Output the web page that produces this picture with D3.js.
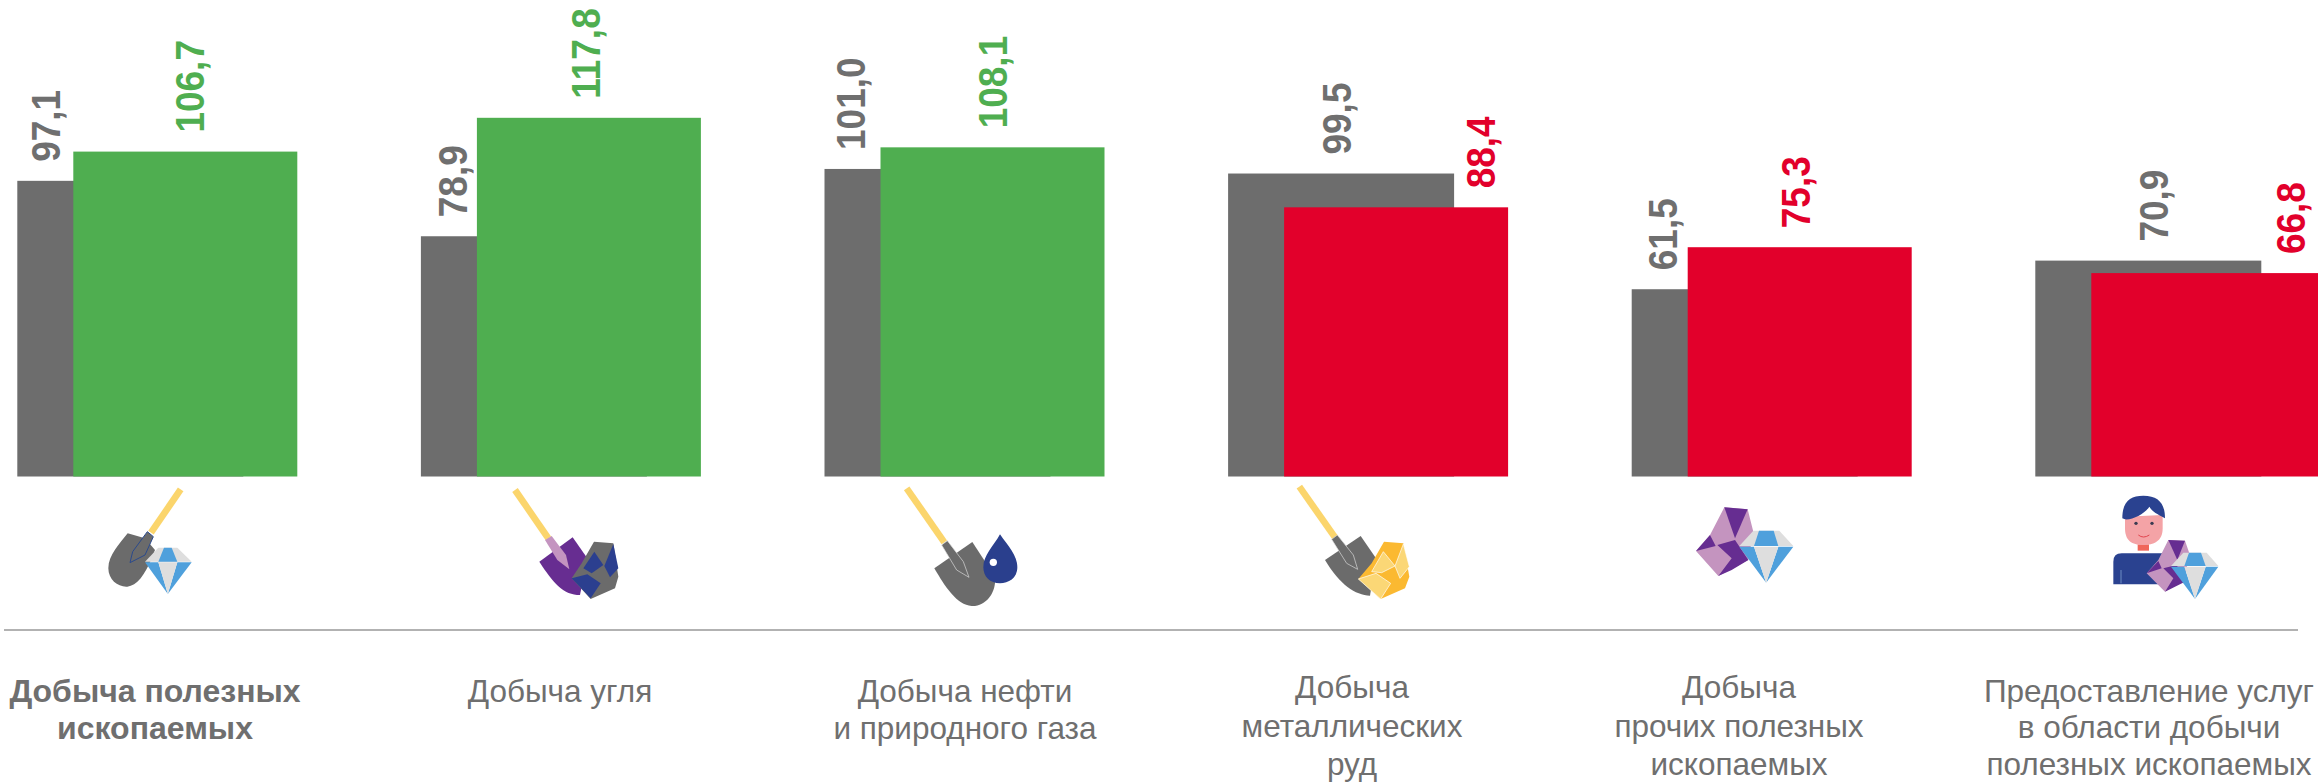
<!DOCTYPE html>
<html>
<head>
<meta charset="utf-8">
<script src="https://cdn.jsdelivr.net/npm/d3@7"></script>
<style>
  html, body { margin: 0; padding: 0; background: #fff; overflow: hidden; }
  text { font-family: "Liberation Sans", Arial, sans-serif; }
</style>
</head>
<body>
<div id="chart"></div>
<script>
// data
var categories = ["coal_all", "coal", "oil", "metal", "other", "services"];
var prevValues = [97.1, 78.9, 101.0, 99.5, 61.5, 70.9];
var currValues = [106.7, 117.8, 108.1, 88.4, 75.3, 66.8];
var currGroup = ["up", "up", "up", "down", "down", "down"];
var categoryLines = [
    ["Добыча полезных", "ископаемых"],
    ["Добыча угля"],
    ["Добыча нефти", "и природного газа"],
    ["Добыча", "металлических", "руд"],
    ["Добыча", "прочих полезных", "ископаемых"],
    ["Предоставление услуг", "в области добычи", "полезных ископаемых"]
];

// layout
var width = 2318, height = 782;
var baseY = 476.5;
var prevBarW = 226, currBarW = 224, currShift = 56;
var GRAY = "#6d6d6d";
var groupColor = d3.scaleOrdinal().domain(["up", "down"]).range(["#4fae50", "#e2002b"]);
// where the rotated value labels sit, measured from the left edge of their bar
var prevLabelDx = [43, 46, 40, 123, 45, 133];
var currLabelDx = [131, 123, 126, 211, 122, 214];
var textCenter = [155, 560, 965, 1352, 1739, 2149];
var textBase = [[702, 739], [702], [702, 739], [698, 737, 775], [698, 737, 775], [702, 738, 775]];

var xScale = d3.scaleBand()
    .domain(categories)
    .range([17.3, 17.3 + 403.6 * 6]);

var yScale = d3.scaleLinear()
    .domain([0, 120])
    .range([baseY, baseY - 3.045 * 120]);

var svg = d3.select("#chart")
    .append("svg")
    .attr("width", width)
    .attr("height", height);

function currColor(i) {
    return groupColor(currGroup[i]);
}

// previous year bars
svg.append("g").selectAll("rect")
    .data(prevValues)
    .join("rect")
    .attr("x", function(d, i) { return xScale(categories[i]); })
    .attr("y", function(d) { return yScale(d); })
    .attr("width", prevBarW)
    .attr("height", function(d) { return baseY - yScale(d); })
    .attr("fill", GRAY);

// current year bars, the last one runs off the page
svg.append("g").selectAll("rect")
    .data(currValues)
    .join("rect")
    .attr("x", function(d, i) { return xScale(categories[i]) + currShift; })
    .attr("y", function(d) { return yScale(d); })
    .attr("width", function(d, i) { return i == 5 ? currBarW + 4 : currBarW; })
    .attr("height", function(d) { return baseY - yScale(d); })
    .attr("fill", function(d, i) { return currColor(i); });

function fmt(v) {
    return v.toFixed(1).replace(".", ",");
}

function valueLabels(values, shift, dx, color) {
    svg.append("g").selectAll("text")
        .data(values)
        .join("text")
        .attr("transform", function(d, i) {
            var x = xScale(categories[i]) + shift + dx[i];
            return "translate(" + x + "," + (yScale(d) - 19) + ") rotate(-90) scale(1,1.1)";
        })
        .attr("font-size", 37)
        .attr("font-weight", "bold")
        .attr("fill", color)
        .text(fmt);
}
valueLabels(prevValues, 0, prevLabelDx, function() { return "#6f6f6f"; });
valueLabels(currValues, currShift, currLabelDx, function(d, i) { return currColor(i); });

// divider
svg.append("line")
    .attr("x1", 4).attr("x2", 2298)
    .attr("y1", 630).attr("y2", 630)
    .attr("stroke", "#999")
    .attr("stroke-width", 1.5);

// category captions
categoryLines.forEach(function(lines, i) {
    svg.append("text")
        .attr("text-anchor", "middle")
        .attr("font-size", i == 0 ? 32 : 31.5)
        .attr("font-weight", i == 0 ? "bold" : "normal")
        .attr("fill", "#6f6f6f")
        .selectAll("tspan")
        .data(lines)
        .join("tspan")
        .attr("x", textCenter[i])
        .attr("y", function(d, j) { return textBase[i][j]; })
        .text(function(d) { return d; });
});

// icons, coordinates are pixels of a 3x crop starting at the given origin
function icon(ox, oy) {
    return svg.append("g").attr("transform", "translate(" + ox + "," + oy + ") scale(" + (1 / 3) + ")");
}
function poly(g, pts, fill, stroke, sw) {
    return g.append("path")
        .attr("d", "M" + pts + "Z")
        .attr("fill", fill)
        .attr("stroke", stroke || "none")
        .attr("stroke-width", sw || 0);
}
function handle(g, p) {
    g.append("line")
        .attr("x1", p[0]).attr("y1", p[1]).attr("x2", p[2]).attr("y2", p[3])
        .attr("stroke", "#fbd56c")
        .attr("stroke-width", 20);
}
function diamond(g, l, r, t, b, tl, tr, ml, mr, y) {
    poly(g, [l, y, tl, t, tr, t, r, y].join(" "), "#dedede");
    poly(g, [ml, y, tl + 17, t, tr - 17, t, mr, y].join(" "), "#4fa0dc");
    var c = (ml + mr) / 2;
    poly(g, [l, y + 2, ml, y + 2, c, b].join(" "), "#4fa0dc");
    poly(g, [mr, y + 2, r, y + 2, c, b].join(" "), "#4fa0dc");
    poly(g, [ml, y + 2, mr, y + 2, c, b].join(" "), "#dedede");
}

var a = icon(90, 480);
handle(a, [272, 28, 183, 158]);
a.append("path")
    .attr("d", "M113,160 C90,190 55,225 55,265 C55,300 85,322 112,320 C140,318 165,285 185,235 L195,210 L165,175Z")
    .attr("fill", "#6b6b6b");
poly(a, "172,155 190,170 165,225 120,248 128,215", "#6b6b6b", "#2b4a8c", 3);
diamond(a, 165, 305, 203, 342, 205, 262, 205, 262, 245);

var b = icon(500, 480);
handle(b, [45, 30, 145, 175]);
b.append("path")
    .attr("d", "M118,245 L218,172 L262,235 L240,345 C190,345 160,310 118,245Z")
    .attr("fill", "#672d91");
poly(b, "135,180 155,168 198,225 208,268 172,240", "#c494c0");
poly(b, "282,185 340,190 355,290 345,325 272,357 215,295 245,250", "#6b6b6b");
poly(b, "250,265 283,215 310,255 275,280", "#2b3f8f");
poly(b, "340,192 355,265 330,292 313,258", "#2b3f8f");
poly(b, "215,295 262,283 302,310 272,355", "#2b3f8f");

var c = icon(895, 480);
handle(c, [35, 25, 148, 187]);
c.append("path")
    .attr("d", "M118,265 L232,186 L300,290 C305,340 270,380 230,378 C185,375 150,320 118,265Z")
    .attr("fill", "#6b6b6b");
poly(c, "140,195 157,182 205,245 222,292 185,270", "#6b6b6b", "#ddd", 2);
c.append("path")
    .attr("d", "M315,163 C340,200 367,225 367,262 C367,295 340,310 315,310 C285,310 265,290 265,262 C265,225 295,200 315,163Z")
    .attr("fill", "#2a3f8d");
c.append("circle").attr("cx", 295).attr("cy", 247).attr("r", 11).attr("fill", "#fff");

var e = icon(1290, 480);
handle(e, [28, 20, 135, 172]);
e.append("path")
    .attr("d", "M105,240 L212,168 L258,235 L240,347 C195,345 150,315 105,240Z")
    .attr("fill", "#6b6b6b");
poly(e, "125,178 142,165 190,225 203,268 170,250", "#6b6b6b", "#ddd", 2);
poly(e, "282,185 340,190 358,290 345,325 272,357 205,297 245,250", "#fbb931");
poly(e, "245,275 280,215 315,258 275,278", "#fbd776", "#fff", 2);
poly(e, "340,192 358,260 330,295 315,258", "#fbd776", "#fff", 2);
poly(e, "205,297 258,280 302,310 272,357", "#fbd776", "#fff", 2);

var f = icon(1685, 490);
poly(f, "118,52 188,58 205,125 190,210 100,258 33,183 75,135", "#c494bf");
poly(f, "118,52 188,58 150,145", "#662d91");
poly(f, "75,135 92,168 33,183", "#662d91");
poly(f, "97,165 150,150 190,210 140,240 100,258 140,205", "#662d91");
diamond(f, 163, 325, 122, 278, 205, 283, 207, 280, 168);

var h = icon(2090, 485);
poly(h, "143,178 177,178 177,197 143,197", "#f0665a");
h.append("path")
    .attr("d", "M105,95 L105,130 C105,175 135,180 160,180 C190,180 218,170 218,130 L218,90Z")
    .attr("fill", "#f4a3a6");
h.append("path")
    .attr("d", "M97,100 C97,50 120,32 160,32 C205,32 225,55 225,100 C210,90 190,85 178,65 C165,85 130,105 105,103Z")
    .attr("fill", "#2a4290");
h.append("circle").attr("cx", 138).attr("cy", 115).attr("r", 5).attr("fill", "#3a3a50");
h.append("circle").attr("cx", 186).attr("cy", 115).attr("r", 5).attr("fill", "#3a3a50");
h.append("path")
    .attr("d", "M145,150 Q160,162 178,150")
    .attr("fill", "none")
    .attr("stroke", "#e2454f")
    .attr("stroke-width", 3);
h.append("path")
    .attr("d", "M70,230 Q70,205 95,205 L250,205 L250,298 L70,298Z")
    .attr("fill", "#2a4290");
h.append("line")
    .attr("x1", 93).attr("y1", 255).attr("x2", 93).attr("y2", 295)
    .attr("stroke", "#8fb4dc")
    .attr("stroke-width", 2);
poly(h, "235,165 285,167 298,205 285,280 225,320 170,265 205,225", "#c494bf");
poly(h, "235,165 285,167 262,225", "#662d91");
poly(h, "205,228 215,250 170,265", "#662d91");
poly(h, "220,250 260,240 285,290 225,320 250,280", "#662d91");
diamond(h, 243, 385, 203, 342, 280, 350, 283, 347, 243);
</script>
</body>
</html>
